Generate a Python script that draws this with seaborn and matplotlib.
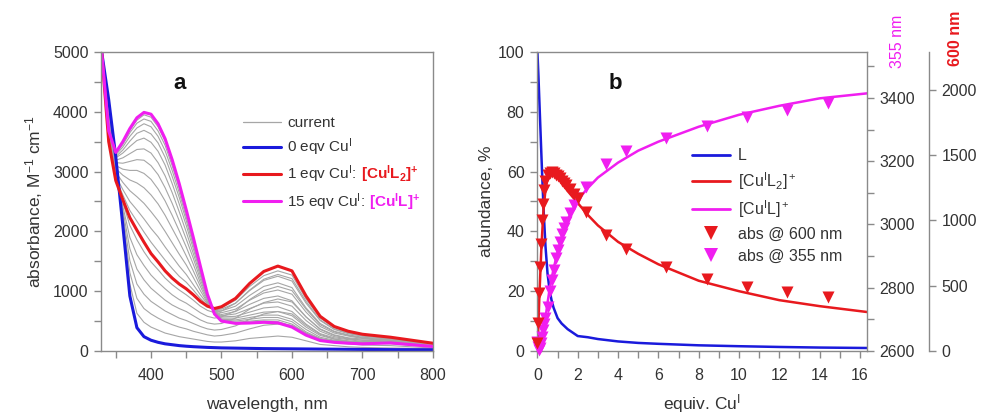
import seaborn as sns
import matplotlib.pyplot as plt
from matplotlib.lines import Line2D
from matplotlib.ticker import MultipleLocator

# ---- panel a: titration spectra (absorbance, M-1 cm-1) ----
wavelength = [330, 340, 350, 360, 370, 380, 390, 400, 410, 420, 430, 440, 450, 460, 470,
              480, 490, 500, 520, 540, 560, 580, 600, 620, 640, 660, 680, 700, 740, 800]

abs_0eq = [5000, 4200, 3250, 2100, 920, 390, 240, 180, 145, 120, 105, 90, 80, 72, 66,
           60, 56, 52, 48, 44, 40, 38, 36, 34, 32, 30, 28, 26, 23, 20]
abs_1eq = [5000, 3500, 2850, 2530, 2230, 2020, 1820, 1630, 1490, 1340, 1220, 1120, 1040, 940, 830,
           750, 710, 740, 880, 1130, 1330, 1420, 1340, 920, 580, 410, 330, 280, 230, 130]
abs_15eq = [5000, 3680, 3320, 3500, 3720, 3900, 3990, 3960, 3800, 3550, 3200, 2800, 2360, 1900, 1420,
            950, 620, 500, 462, 468, 480, 470, 400, 265, 175, 145, 130, 120, 135, 75]

# intermediate ("current") spectra, 0 -> 1 eqv then 1 -> 15 eqv
grey_spectra = [
    [5000, 4100, 3190, 2170, 1120, 630, 480, 400, 350, 300, 270, 240, 220, 200, 180, 160, 150, 150, 170, 210, 230, 250, 230, 170, 110, 90, 70, 60, 50, 40],
    [5000, 3990, 3130, 2230, 1310, 880, 710, 620, 550, 490, 440, 400, 370, 330, 300, 270, 250, 260, 300, 370, 430, 450, 430, 300, 200, 140, 120, 100, 90, 50],
    [5000, 3890, 3070, 2300, 1510, 1120, 950, 830, 750, 670, 610, 550, 510, 460, 410, 370, 350, 360, 420, 530, 620, 660, 620, 430, 280, 200, 160, 140, 120, 70],
    [5000, 3780, 3010, 2360, 1710, 1370, 1190, 1050, 950, 850, 770, 710, 660, 590, 520, 470, 450, 460, 550, 700, 810, 870, 820, 570, 360, 260, 210, 180, 150, 90],
    [5000, 3680, 2950, 2420, 1900, 1610, 1430, 1270, 1150, 1040, 940, 860, 800, 720, 640, 580, 550, 570, 670, 860, 1010, 1080, 1010, 700, 440, 320, 260, 220, 180, 100],
    [5000, 3570, 2890, 2490, 2100, 1860, 1660, 1490, 1360, 1220, 1110, 1020, 940, 850, 750, 680, 640, 670, 800, 1020, 1200, 1280, 1210, 830, 520, 370, 300, 250, 210, 120],
    [5000, 3510, 2890, 2610, 2350, 2170, 1990, 1820, 1670, 1520, 1380, 1250, 1150, 1020, 880, 770, 700, 720, 850, 1080, 1260, 1340, 1270, 870, 550, 390, 310, 270, 220, 130],
    [5000, 3530, 2930, 2700, 2500, 2360, 2210, 2050, 1910, 1740, 1580, 1420, 1280, 1110, 940, 790, 690, 700, 800, 1010, 1180, 1250, 1170, 800, 510, 360, 290, 250, 210, 120],
    [5000, 3550, 2990, 2820, 2680, 2580, 2470, 2330, 2180, 2000, 1810, 1620, 1440, 1230, 1010, 810, 680, 670, 750, 930, 1080, 1140, 1060, 720, 460, 330, 270, 230, 200, 110],
    [5000, 3580, 3050, 2940, 2860, 2810, 2730, 2610, 2460, 2270, 2050, 1830, 1590, 1340, 1080, 830, 670, 640, 700, 850, 970, 1020, 950, 650, 410, 300, 250, 210, 190, 110],
    [5000, 3600, 3100, 3040, 3020, 3020, 2970, 2870, 2710, 2510, 2270, 2010, 1740, 1450, 1140, 860, 660, 610, 660, 780, 880, 920, 840, 570, 370, 270, 220, 200, 180, 100],
    [5000, 3610, 3150, 3140, 3170, 3200, 3190, 3100, 2950, 2730, 2470, 2180, 1870, 1550, 1200, 880, 650, 590, 620, 710, 800, 820, 750, 510, 330, 240, 200, 180, 170, 100],
    [5000, 3630, 3190, 3230, 3300, 3370, 3380, 3310, 3150, 2930, 2650, 2330, 1990, 1630, 1260, 890, 650, 570, 580, 650, 720, 740, 660, 450, 290, 220, 190, 160, 160, 90],
    [5000, 3640, 3230, 3310, 3420, 3520, 3560, 3490, 3340, 3110, 2800, 2460, 2100, 1710, 1300, 910, 640, 550, 550, 600, 650, 660, 590, 400, 260, 200, 170, 150, 150, 90],
    [5000, 3650, 3250, 3360, 3510, 3640, 3690, 3630, 3480, 3240, 2920, 2570, 2180, 1770, 1340, 920, 630, 530, 520, 560, 600, 600, 530, 360, 230, 180, 160, 140, 150, 80],
    [5000, 3660, 3280, 3410, 3590, 3730, 3800, 3750, 3590, 3350, 3020, 2650, 2240, 1810, 1370, 930, 630, 520, 500, 530, 560, 560, 490, 320, 210, 170, 150, 130, 140, 80],
    [5000, 3670, 3300, 3450, 3650, 3810, 3880, 3840, 3680, 3440, 3100, 2720, 2290, 1850, 1390, 940, 620, 510, 480, 500, 520, 520, 450, 300, 200, 160, 140, 130, 140, 80],
    [5000, 3680, 3310, 3480, 3690, 3860, 3950, 3910, 3750, 3510, 3160, 2770, 2330, 1880, 1410, 950, 620, 500, 470, 480, 500, 490, 420, 280, 180, 150, 130, 120, 140, 80],
]

# ---- panel b: species distribution (%) and absorbance at two wavelengths ----
equiv_fit = [0, 0.05, 0.1, 0.15, 0.2, 0.3, 0.4, 0.5, 0.6, 0.7, 0.8, 1.0, 1.2, 1.5,
             2, 2.5, 3, 4, 5, 6, 8, 10, 12, 14, 16.4]
pct_L = [100, 92, 83, 74, 65, 48, 35, 26, 20.5, 17, 14.5, 11, 9.2, 7.3,
         5.0, 4.6, 4.0, 3.2, 2.7, 2.4, 1.9, 1.6, 1.35, 1.15, 1.0]
pct_CuL2 = [0, 9, 19, 27, 35, 47, 54, 57.5, 59.3, 60, 59.8, 58.5, 56.5, 53.5,
            49.5, 45.5, 42, 36.5, 32.5, 29, 23.5, 20, 17, 15, 13]
pct_CuL = [0, 0.3, 1, 2, 3.5, 7, 11, 16, 20.5, 24, 27.5, 33, 38, 44,
           50.5, 54.5, 58, 63, 67, 70, 75, 79, 82, 84.5, 86.2]

equiv_titr = [0, 0.05, 0.1, 0.15, 0.2, 0.25, 0.3, 0.35, 0.4, 0.5, 0.6, 0.7, 0.8, 0.9, 1.0,
              1.1, 1.2, 1.3, 1.4, 1.6, 1.8, 2.0, 2.4, 3.4, 4.4, 6.4, 8.4, 10.4, 12.4, 14.4]
abs_600 = [60, 218, 448, 641, 821, 1000, 1128, 1231, 1300, 1345, 1365, 1370, 1362, 1350, 1338,
           1322, 1305, 1290, 1272, 1240, 1205, 1175, 1064, 885, 782, 646, 551, 487, 449, 415]
abs_355 = [2630, 2612, 2603, 2608, 2625, 2645, 2665, 2685, 2705, 2740, 2790, 2825, 2855, 2895, 2920,
           2945, 2970, 2990, 3008, 3037, 3062, 3082, 3117, 3190, 3232, 3274, 3312, 3338, 3362, 3384]

BLUE = '#1a1adc'
RED = '#e8191e'
MAG = '#f01ef0'
GREY = '#a6a6a6'
SPINE = '#8a8a8a'
TXT = '#333333'

sns.set_theme(style='ticks')
plt.rcParams.update({
    'font.family': ['Liberation Sans', 'DejaVu Sans'],
    'mathtext.fontset': 'custom',
    'mathtext.rm': 'Liberation Sans',
    'mathtext.it': 'Liberation Sans:italic',
    'mathtext.bf': 'Liberation Sans:bold',
    'font.size': 11,
    'axes.edgecolor': SPINE,
    'axes.linewidth': 1.0,
    'axes.labelcolor': TXT,
    'xtick.color': SPINE,
    'ytick.color': SPINE,
    'xtick.labelcolor': TXT,
    'ytick.labelcolor': TXT,
    'xtick.labelsize': 11.5,
    'ytick.labelsize': 11.5,
})

fig = plt.figure(figsize=(9.85, 4.18), dpi=100)
axa = fig.add_axes([0.1025, 0.1603, 0.337, 0.7153])
axb = fig.add_axes([0.5452, 0.1603, 0.335, 0.7153])


def style_ticks(ax, axis='both'):
    ax.tick_params(axis=axis, which='both', direction='out', length=5, width=1, pad=4)


# ---------- panel a ----------
for spec in grey_spectra:
    sns.lineplot(x=wavelength, y=spec, ax=axa, color=GREY, lw=0.8, sort=False, estimator=None)
sns.lineplot(x=wavelength, y=abs_0eq, ax=axa, color=BLUE, lw=2.2, sort=False, estimator=None)
sns.lineplot(x=wavelength, y=abs_1eq, ax=axa, color=RED, lw=2.2, sort=False, estimator=None)
sns.lineplot(x=wavelength, y=abs_15eq, ax=axa, color=MAG, lw=2.2, sort=False, estimator=None)

axa.set_xlim(329, 800)
axa.set_ylim(0, 5000)
axa.xaxis.set_major_locator(MultipleLocator(100))
axa.xaxis.set_minor_locator(MultipleLocator(50))
axa.yaxis.set_major_locator(MultipleLocator(1000))
axa.yaxis.set_minor_locator(MultipleLocator(500))
style_ticks(axa)
axa.tick_params(axis='x', pad=7)
for s in axa.spines.values():
    s.set_visible(True)
axa.set_xlabel('wavelength, nm', fontsize=12.5, labelpad=10)
axa.set_ylabel(r'absorbance, M$^{-1}$ cm$^{-1}$', fontsize=12.5, labelpad=6)
axa.text(0.238, 0.895, 'a', transform=axa.transAxes, fontsize=16, fontweight='bold',
         ha='center', va='center', color='#111111')

handles_a = [Line2D([], [], color=GREY, lw=0.9),
             Line2D([], [], color=BLUE, lw=2.2),
             Line2D([], [], color=RED, lw=2.2),
             Line2D([], [], color=MAG, lw=2.2)]
labels_a = ['current', r'0 eqv Cu$^\mathrm{I}$', r'1 eqv Cu$^\mathrm{I}$:', r'15 eqv Cu$^\mathrm{I}$:']
leg_a = axa.legend(handles_a, labels_a, loc='upper left', bbox_to_anchor=(0.405, 0.81),
                   frameon=False, fontsize=11, handlelength=2.5, handletextpad=0.4,
                   labelspacing=0.38, borderpad=0, labelcolor=TXT)
leg_texts = leg_a.get_texts()

# ---------- panel b ----------
sns.lineplot(x=equiv_fit, y=pct_L, ax=axb, color=BLUE, lw=1.8, sort=False, estimator=None)
sns.lineplot(x=equiv_fit, y=pct_CuL2, ax=axb, color=RED, lw=1.8, sort=False, estimator=None)
sns.lineplot(x=equiv_fit, y=pct_CuL, ax=axb, color=MAG, lw=1.8, sort=False, estimator=None)
axb.set_xlim(-0.02, 16.35)
axb.set_ylim(0, 100)
axb.xaxis.set_major_locator(MultipleLocator(2))
axb.xaxis.set_minor_locator(MultipleLocator(1))
axb.yaxis.set_major_locator(MultipleLocator(20))
axb.yaxis.set_minor_locator(MultipleLocator(10))
style_ticks(axb)
axb.tick_params(axis='x', pad=7)
axb.spines['top'].set_visible(True)
axb.spines['right'].set_visible(False)
axb.set_xlabel(r'equiv. Cu$^\mathrm{I}$', fontsize=12.5, labelpad=7)
axb.set_ylabel('abundance, %', fontsize=12.5, labelpad=3)
axb.text(0.236, 0.895, 'b', transform=axb.transAxes, fontsize=16, fontweight='bold',
         ha='center', va='center', color='#111111')

ax355 = axb.twinx()
sns.scatterplot(x=equiv_titr, y=abs_355, ax=ax355, color=MAG, marker='v', s=75,
                linewidth=0, clip_on=False, zorder=3)
ax355.set_ylim(2600, 3545)
ax355.yaxis.set_major_locator(MultipleLocator(200))
ax355.yaxis.set_minor_locator(MultipleLocator(100))
ax355.set_ylabel('')
for side in ['top', 'left', 'bottom']:
    ax355.spines[side].set_visible(False)
ax355.spines['right'].set_visible(True)
style_ticks(ax355, 'y')

ax600 = axb.twinx()
sns.scatterplot(x=equiv_titr, y=abs_600, ax=ax600, color=RED, marker='v', s=75,
                linewidth=0, clip_on=False, zorder=3)
ax600.set_ylim(0, 2290)
ax600.yaxis.set_major_locator(MultipleLocator(500))
ax600.set_ylabel('')
for side in ['top', 'left', 'bottom']:
    ax600.spines[side].set_visible(False)
ax600.spines['right'].set_visible(True)
ax600.spines['right'].set_position(('axes', 1.188))
style_ticks(ax600, 'y')

fig.text(897 / 985, 1 - 41 / 418, '355 nm', rotation=90, color=MAG, fontsize=11.5,
         ha='center', va='center')
fig.text(955 / 985, 1 - 38 / 418, '600 nm', rotation=90, color=RED, fontsize=11.5,
         fontweight='bold', ha='center', va='center')

handles_b = [Line2D([], [], color=BLUE, lw=2),
             Line2D([], [], color=RED, lw=2),
             Line2D([], [], color=MAG, lw=2),
             Line2D([], [], color=RED, marker='v', ls='none', ms=10, mew=0),
             Line2D([], [], color=MAG, marker='v', ls='none', ms=10, mew=0)]
labels_b = ['L', r'[Cu$^\mathrm{I}$L$_2$]$^+$', r'[Cu$^\mathrm{I}$L]$^+$',
            'abs @ 600 nm', 'abs @ 355 nm']
ax600.legend(handles_b, labels_b, loc='upper left', bbox_to_anchor=(0.445, 0.705),
             frameon=False, fontsize=11.5, handlelength=2.4, handletextpad=0.5,
             labelspacing=0.42, borderpad=0, labelcolor=TXT)

fig.canvas.draw()
fig.add_artist(plt.Annotation(r'$\mathbf{[Cu^{I}L_{2}]^{+}}$', xy=(1, 0), xycoords=leg_texts[2],
                              xytext=(3, 0), textcoords='offset points', color=RED,
                              fontsize=11, ha='left', va='bottom'))
fig.add_artist(plt.Annotation(r'$\mathbf{[Cu^{I}L]^{+}}$', xy=(1, 0), xycoords=leg_texts[3],
                              xytext=(3, 0), textcoords='offset points', color=MAG,
                              fontsize=11, ha='left', va='bottom'))

fig.savefig('out.png', dpi=100)
